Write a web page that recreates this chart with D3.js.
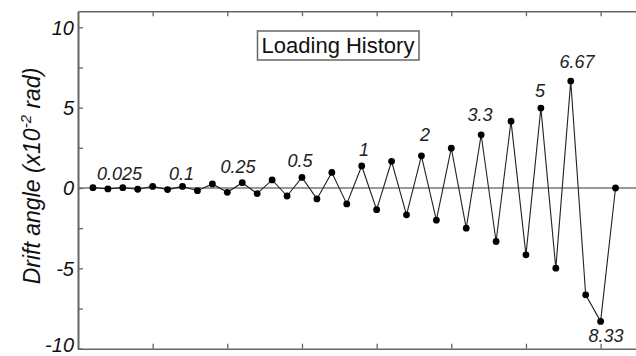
<!DOCTYPE html>
<html>
<head>
<meta charset="utf-8">
<script src="https://cdn.jsdelivr.net/npm/d3@7"></script>
<style>
  html, body { margin: 0; padding: 0; background: #fff; }
  svg { display: block; }
</style>
</head>
<body>
<svg id="chart" width="636" height="356"></svg>
<script>
// ---- data ----
const steps = d3.range(1, 37);               // loading step index
const drift = [0.02, -0.06, 0.02, -0.08, 0.1, -0.1, 0.1, -0.17, 0.25, -0.27,
               0.33, -0.35, 0.5, -0.5, 0.66, -0.68, 0.97, -0.99, 1.37, -1.35,
               1.66, -1.67, 2.0, -2.0, 2.48, -2.5, 3.31, -3.33, 4.16, -4.16,
               4.97, -4.99, 6.65, -6.65, -8.3, 0];
const yMajorTicks = [-10, -5, 0, 5, 10];
const yTickLabels = ["-10", "-5", "0", "5", "10"];
const yMinorTicks = [-7.5, -2.5, 2.5, 7.5];
const xTicks = [5, 10, 15, 20, 25, 30, 35];
const ampLabels = ["0.025", "0.1", "0.25", "0.5", "1", "2", "3.3", "5", "6.67", "8.33"];
const ampLabelStep = [2.78, 6.93, 10.72, 14.87, 19.16, 23.24, 26.93, 30.94, 33.42, 35.36];
const ampLabelValue = [0.5, 0.5, 0.93, 1.31, 1.99, 2.92, 4.17, 5.66, 7.47, -9.58];
const titleText = "Loading History";

(function () {
// ---- layout ----
const svg = d3.select("#chart");
const mLeft = 78, mRight = 636, mTop = 11.2, mBottom = 348.7;
const x = d3.scaleLinear().domain([0, 37.37]).range([mLeft, mRight]);
const y = d3.scaleLinear().domain([-10, 11]).range([mBottom, mTop]);
const axisColor = "#666";

// zero line
svg.append("line")
  .attr("x1", mLeft).attr("x2", mRight)
  .attr("y1", y(0)).attr("y2", y(0))
  .attr("stroke", "#777").attr("stroke-width", 1.5);

// axes
function styleAxis(g) {
  g.select(".domain").attr("stroke", axisColor).attr("stroke-width", 1.6);
  g.selectAll(".tick line").attr("stroke", axisColor).attr("stroke-width", 1.3);
}
svg.append("g").attr("transform", `translate(0,${mTop})`)
  .call(d3.axisTop(x).tickValues(xTicks).tickSizeInner(-5).tickSizeOuter(0).tickFormat(""))
  .call(styleAxis);
svg.append("g").attr("transform", `translate(0,${mBottom})`)
  .call(d3.axisBottom(x).tickValues(xTicks).tickSizeInner(-5).tickSizeOuter(0).tickFormat(""))
  .call(styleAxis);
svg.append("g").attr("transform", `translate(${mLeft},0)`)
  .call(d3.axisLeft(y).tickValues(yMinorTicks).tickSizeInner(-5).tickSizeOuter(0).tickFormat(""))
  .call(styleAxis);
const yAx = svg.append("g").attr("transform", `translate(${mLeft},0)`)
  .call(d3.axisLeft(y).tickValues(yMajorTicks).tickSizeInner(-5).tickSizeOuter(0).tickPadding(4)
        .tickFormat((d, i) => yTickLabels[i]))
  .call(styleAxis);
yAx.selectAll(".tick text")
  .attr("dy", (d, i) => i === 0 ? "0.14em" : "0.35em")
  .attr("font-family", "'Liberation Sans', Arial, sans-serif")
  .attr("font-style", "italic")
  .attr("font-size", 20)
  .attr("fill", "#111");

// y axis title
const yt = svg.append("text")
  .attr("transform", `translate(40,${(62 + 290) / 2}) rotate(-90)`)
  .attr("text-anchor", "middle")
  .attr("font-family", "'Liberation Sans', Arial, sans-serif")
  .attr("font-style", "italic")
  .attr("font-size", 23)
  .attr("fill", "#111");
yt.append("tspan").text("Drift angle (x10");
yt.append("tspan").attr("font-size", 15).attr("dy", -9).text("-2");
yt.append("tspan").attr("dy", 9).text(" rad)");

// data line
const line = d3.line().x((d, i) => x(steps[i])).y(d => y(d));
svg.append("path")
  .datum(drift)
  .attr("d", line)
  .attr("fill", "none")
  .attr("stroke", "#222")
  .attr("stroke-width", 1.1);

svg.append("g").selectAll("circle")
  .data(drift)
  .join("circle")
  .attr("cx", (d, i) => x(steps[i]))
  .attr("cy", d => y(d))
  .attr("r", 3.4)
  .attr("fill", "#000");

// amplitude labels
svg.append("g").selectAll("text")
  .data(ampLabels)
  .join("text")
  .attr("x", (d, i) => x(ampLabelStep[i]))
  .attr("y", (d, i) => y(ampLabelValue[i]))
  .attr("text-anchor", "middle")
  .attr("font-family", "'Liberation Sans', Arial, sans-serif")
  .attr("font-style", "italic")
  .attr("font-size", 18)
  .attr("fill", "#222")
  .text(d => d);

// title box
const tg = svg.append("g");
tg.append("rect")
  .attr("x", 257.5).attr("y", 31)
  .attr("width", 161.5).attr("height", 29)
  .attr("fill", "#fff")
  .attr("stroke", "#666")
  .attr("stroke-width", 1.5);
tg.append("text")
  .attr("x", 338).attr("y", 53.3)
  .attr("text-anchor", "middle")
  .attr("font-family", "'Liberation Sans', Arial, sans-serif")
  .attr("font-size", 22)
  .attr("fill", "#111")
  .text(titleText);
})();
</script>
</body>
</html>
